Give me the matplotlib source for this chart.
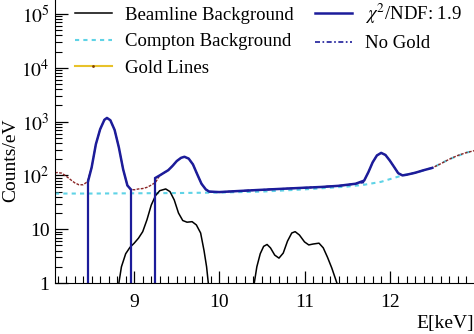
import numpy as np
import matplotlib
matplotlib.use("Agg")
import matplotlib.pyplot as plt
from matplotlib.ticker import FixedLocator, FixedFormatter, MultipleLocator, LogLocator, NullFormatter

plt.rcParams['font.family'] = ['Liberation Serif', 'DejaVu Serif']
plt.rcParams['mathtext.fontset'] = 'stix'

# measured spectrum (counts per eV)
data_e = [8.07, 8.10, 8.15, 8.20, 8.25, 8.30, 8.35, 8.40, 8.45, 8.50, 8.55, 8.60, 8.65, 8.68,
          8.72, 8.77, 8.82, 8.87, 8.92, 8.96, 9.00, 9.05, 9.10, 9.15, 9.20, 9.25, 9.30, 9.35,
          9.40, 9.45, 9.50, 9.55, 9.59, 9.64, 9.69, 9.74, 9.79, 9.84, 9.88, 9.95, 10.0, 10.1,
          10.2, 10.3, 10.4, 10.5, 10.6, 10.7, 10.8, 10.9, 11.0, 11.1, 11.2, 11.3, 11.4, 11.5,
          11.6, 11.65, 11.70, 11.75, 11.80, 11.85, 11.90, 11.95, 12.00, 12.05, 12.10, 12.15,
          12.20, 12.3, 12.4, 12.5, 12.6, 12.7, 12.8, 12.9, 13.0, 13.05]
data_counts = [112, 113, 110, 97, 84, 73, 67, 67, 76, 140, 380, 720, 1080, 1170,
               1060, 700, 330, 130, 65, 55, 54, 56, 57, 60, 66, 74, 100, 112,
               125, 150, 185, 212, 222, 205, 160, 105, 70, 55, 50, 49, 49, 50,
               51, 52, 53, 53, 55, 56, 57, 58, 59, 60, 61, 63, 64, 66,
               70, 74, 80, 115, 175, 235, 262, 240, 190, 145, 110, 100,
               103, 112, 125, 138, 165, 200, 235, 265, 290, 300]

# total fit, drawn over the two fit windows
fit1_e = [8.46, 8.50, 8.55, 8.60, 8.65, 8.68, 8.72, 8.77, 8.82, 8.87, 8.92, 8.96]
fit1_counts = [80, 140, 380, 720, 1080, 1170, 1060, 700, 330, 130, 65, 55]
fit2_e = [9.25, 9.30, 9.35, 9.40, 9.45, 9.50, 9.55, 9.59, 9.64, 9.69, 9.74, 9.79, 9.84,
          9.88, 10.0, 10.2, 10.4, 10.6, 10.8, 11.0, 11.2, 11.4, 11.6, 11.70, 11.75, 11.80,
          11.85, 11.90, 11.95, 12.00, 12.05, 12.10, 12.15, 12.20, 12.3, 12.4, 12.5]
fit2_counts = [90, 100, 112, 125, 150, 185, 212, 222, 205, 160, 105, 70, 55,
               50, 49, 51, 53, 55, 57, 59, 61, 64, 70, 80, 115, 175,
               235, 262, 240, 190, 145, 110, 100, 103, 112, 125, 138]

# fit without gold lines (flat part)
nogold_e = [9.88, 10.0, 10.2, 10.4, 10.6, 10.8, 11.0, 11.2, 11.4, 11.6, 11.70]
nogold_counts = [50, 49, 51, 53, 55, 57, 59, 61, 64, 70, 74]

# compton background
compton_e = [8.07, 8.5, 9.0, 9.5, 10.0, 10.5, 11.0, 11.5, 11.7, 11.9, 12.0, 12.15, 12.3,
             12.5, 12.7, 12.9, 13.05]
compton_counts = [46, 46, 46.5, 47, 48, 50, 55, 62, 67, 76, 85, 100, 112,
                  138, 200, 265, 300]

# beamline background, two groups
beam1_e = [8.82, 8.85, 8.90, 8.95, 9.00, 9.05, 9.10, 9.15, 9.20, 9.25, 9.30, 9.37, 9.42,
           9.47, 9.52, 9.57, 9.62, 9.68, 9.73, 9.78, 9.82, 9.85, 9.87]
beam1_counts = [1.0, 2.0, 3.5, 4.6, 5.5, 6.8, 9, 15, 28, 42, 52, 56, 50,
                35, 20, 14.5, 13.5, 13.8, 12, 8.5, 4, 2, 1.0]
beam2_e = [10.41, 10.44, 10.48, 10.52, 10.56, 10.60, 10.65, 10.70, 10.75, 10.80, 10.85,
           10.89, 10.94, 11.00, 11.05, 11.10, 11.17, 11.22, 11.27, 11.32, 11.38]
beam2_counts = [1.0, 2.0, 3.5, 4.8, 5.2, 4.5, 3.3, 2.9, 3.6, 6.0, 8.5,
                9.0, 7.8, 5.8, 5.1, 5.3, 5.5, 4.5, 3.0, 1.9, 1.0]

navy = '#1c1c9a'
cyan = '#5fd3e6'
gold = '#e8c22a'
red = '#8b2525'

fig = plt.figure(figsize=(4.74, 3.34), dpi=100)
ax = fig.add_axes([55/474, 1-283/334, 1-55/474, 283/334])

ax.plot(compton_e, compton_counts, color=cyan, lw=1.5, ls=(0, (2, 2)), label='Compton Background')
ax.plot(beam1_e, beam1_counts, color='black', lw=1.1, label='Beamline Background')
ax.plot(beam2_e, beam2_counts, color='black', lw=1.1)
ax.plot(data_e, data_counts, color=red, lw=1.0, ls=(0, (2, 1)))
ax.plot([], [], color=gold, lw=1.5, marker='.', ms=2, mec='#804000', label='Gold Lines')
ax.plot(fit1_e, fit1_counts, color=navy, lw=1.8, label=r'$\chi^2$/NDF: 1.9')
ax.plot(fit2_e, fit2_counts, color=navy, lw=1.8)
ax.plot(nogold_e, nogold_counts, color=navy, lw=1.2, ls=(0, (3, 1.5, 1, 1.5)), label='No Gold')
ax.vlines([fit1_e[0], fit1_e[-1], fit2_e[0]], 1, [fit1_counts[0], fit1_counts[-1], fit2_counts[0]],
          color=navy, lw=1.6)

ax.set_yscale('log')
ax.set_xlim(8.07, 12.99)
ax.set_ylim(1, 10**(283/53.8))

ax.yaxis.set_major_locator(FixedLocator([1, 10, 1e2, 1e3, 1e4, 1e5]))
ax.yaxis.set_major_formatter(FixedFormatter(['1', '10', r'$10^2$', r'$10^3$', r'$10^4$', r'$10^5$']))
ax.yaxis.set_minor_locator(LogLocator(base=10, subs=np.arange(2, 10), numticks=20))
ax.yaxis.set_minor_formatter(NullFormatter())
ax.xaxis.set_major_locator(MultipleLocator(1))
ax.xaxis.set_minor_locator(MultipleLocator(0.1))

ax.tick_params(which='both', direction='in', labelsize=14)
ax.tick_params(which='major', length=9, width=0.9)
ax.tick_params(which='minor', length=5, width=0.8)
ax.tick_params(axis='y', pad=4)
ax.tick_params(axis='x', pad=8)
ax.spines['top'].set_visible(False)
ax.spines['right'].set_visible(False)

ax.set_xlabel('E[keV]', fontsize=14, loc='right', labelpad=3)
fig.text(0.022, 1-160/334, 'Counts/eV', rotation=90, va='center', ha='center', fontsize=14)

hs, ls = ax.get_legend_handles_labels()
order = ['Beamline Background', 'Compton Background', 'Gold Lines', r'$\chi^2$/NDF: 1.9', 'No Gold']
hh = [hs[ls.index(o)] for o in order]
ax.legend(hh, order, ncol=2, frameon=False, fontsize=13.5, loc='upper left',
          bbox_to_anchor=(0.02, 1.035), handlelength=2.0, handletextpad=0.7,
          columnspacing=1.1, labelspacing=0.5, borderaxespad=0.2)

fig.savefig('out.png', dpi=100)
